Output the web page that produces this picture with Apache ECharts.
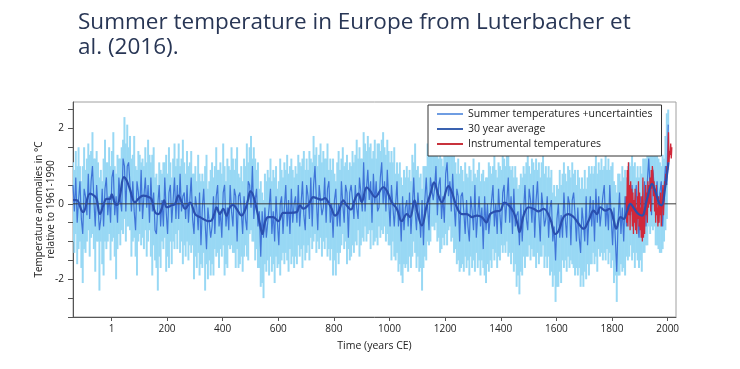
<!DOCTYPE html>
<html><head><meta charset="utf-8">
<script src="https://cdn.jsdelivr.net/npm/echarts@6/dist/echarts.min.js"></script>
<style>html,body{margin:0;padding:0;background:#fff}#c{width:740px;height:369px}</style>
</head><body><div id="c"></div>
<script>
const titleText = "Summer temperature in Europe from Luterbacher et\nal. (2016).";
const xName = "Time (years CE)";
const yName = "Temperature anomalies in °C\nrelative to 1961-1990";
const xMin = -138, xMax = 2030;
const yMin = -3, yMax = 2.7;
const xTickValues = [1,200,400,600,800,1000,1200,1400,1600,1800,2000];
const yTickValues = [-3,-2.5,-2,-1.5,-1,-0.5,0,0.5,1,1.5,2,2.5];
const yLabelValues = [-2,0,2];
const seriesNames = ["Summer temperatures +uncertainties","30 year average","Instrumental temperatures"];

// annual reconstruction sampled every 5 years starting -138
const annualStart = -138, annualStep = 5;
const annualVal = [
0.5,-0.2,0.7,-0.5,0.1,0.6,-0.4,-0.8,0.4,0.2,-0.3,0.8,-0.4,0.6,1.0,0.1,-0.6,0.5,-0.1,-0.7,
-0.4,0.4,-0.6,0.4,0.7,-0.3,0.2,-0.5,0.7,0.9,-0.3,0.2,-0.5,0.7,0.1,-0.2,1.2,1.0,-0.2,1.0,
1.1,0.5,-0.2,0.6,-0.2,-0.7,0.6,0.3,-0.2,0.9,-0.4,0.2,0.7,-0.1,0.5,-0.5,0.7,-0.2,0.3,-0.7,
-0.8,0.0,0.5,-0.6,0.1,-0.6,0.7,-0.2,-0.8,0.3,0.5,-0.5,0.1,0.7,-0.4,0.5,-0.4,0.8,-0.2,0.2,
0.3,-0.4,0.5,-0.5,0.1,0.7,-0.4,-0.8,0.2,-0.1,-0.7,0.3,-1.1,-0.1,0.4,-0.5,-1.2,-0.1,-0.5,-0.9,
-0.6,0.2,-0.8,0.2,0.5,-0.6,-0.2,-0.9,0.3,0.5,-0.6,-0.1,-0.7,0.5,-0.2,-0.6,0.4,0.2,-1.0,0.2,
0.3,-0.2,-0.8,0.2,-0.4,-0.7,0.6,0.5,-0.1,1.0,-0.4,0.1,0.4,-0.6,-0.2,-1.4,-0.2,-0.9,-0.1,-0.9,
-0.9,-0.1,0.4,-0.8,-0.2,-1.0,0.2,-0.5,-1.1,0.0,0.2,-0.8,-0.1,0.5,-0.6,0.1,-0.8,0.4,-0.5,0.0,
0.2,-0.5,0.5,-0.6,0.0,0.6,-0.3,-0.7,0.5,0.2,-0.4,0.7,-0.6,0.5,1.0,0.1,-0.7,0.5,0.1,-0.3,
-0.1,0.7,-0.5,0.4,0.6,-0.5,0.0,-0.9,0.1,0.4,-0.6,0.0,-0.6,0.6,0.0,-0.5,0.5,0.3,-0.9,0.3,
0.5,0.1,-0.4,0.5,-0.1,-0.4,0.7,0.3,-0.2,1.1,-0.2,0.4,0.9,0.1,0.6,-0.5,0.8,0.0,0.6,-0.2,
-0.1,0.7,1.1,0.0,0.6,-0.2,0.9,0.1,-0.6,0.5,0.5,-0.6,0.0,0.6,-0.6,0.0,-1.0,0.2,-0.7,-0.1,
0.1,-0.6,0.3,-0.8,-0.1,0.7,-0.2,-0.7,0.3,-0.2,-0.9,0.1,-1.1,0.1,0.7,-0.1,-0.7,0.7,0.4,0.1,
0.4,1.0,-0.3,0.5,0.7,-0.4,0.2,-0.5,0.8,1.1,0.2,0.6,-0.2,0.8,0.0,-0.6,0.4,0.2,-1.0,0.2,
0.3,-0.2,-0.8,0.1,-0.6,-1.0,0.2,-0.2,-0.7,0.5,-0.9,-0.3,0.2,-0.6,-0.1,-1.2,0.2,-0.7,0.0,-0.8,
-0.8,0.1,0.5,-0.6,0.0,-0.8,0.4,-0.3,-0.8,0.3,0.5,-0.5,0.1,0.7,-0.5,0.2,-0.8,0.4,-0.6,-0.3,
-0.2,-1.1,0.0,-1.0,-0.2,0.5,-0.4,-0.7,0.4,0.1,-0.5,0.5,-0.9,0.1,0.6,-0.3,-1.0,0.3,-0.1,-0.6,
-0.4,0.2,-0.9,-0.1,0.1,-1.0,-0.6,-1.5,-0.4,0.0,-0.9,-0.3,-0.9,0.3,-0.4,-0.9,0.2,0.0,-1.1,0.1,
0.3,-0.3,-1.0,-0.1,-0.9,-1.3,-0.1,-0.5,-1.0,0.2,-1.1,-0.4,0.2,-0.6,0.1,-1.0,0.4,-0.5,0.2,-0.6,
-0.6,0.2,0.5,-0.6,0.0,-0.7,0.5,-0.4,-1.1,-0.1,-0.1,-1.8,-0.4,0.3,-0.8,-0.1,-1.0,0.2,-0.6,0.0,
0.3,-0.3,0.5,-0.6,-0.1,0.5,-0.4,-0.9,0.2,-0.1,-0.6,0.6,-0.6,0.6,1.2,0.4,-0.3,0.9,0.4,-0.1,
0.6,-0.5,0.3,0.6,-0.6,0.4,1.0,0.5,2.1
];
const annualUp = [
1.1,0.9,1.4,1.0,1.5,1.0,0.6,1.0,1.5,0.9,1.2,1.6,1.3,1.4,1.9,1.2,1.2,1.4,1.1,0.7,
0.9,0.6,1.2,1.7,1.1,1.1,1.5,1.0,1.4,1.9,1.0,0.8,1.3,1.2,1.2,1.5,1.7,2.3,1.6,2.1,
1.5,1.8,1.2,1.3,1.8,1.0,0.9,1.4,1.3,1.1,1.2,1.0,1.5,1.1,1.7,1.3,1.1,1.3,1.5,0.7,
0.8,0.5,1.1,0.9,0.8,1.1,1.1,1.3,0.8,1.5,1.1,0.7,1.2,1.6,1.0,1.2,1.6,1.0,1.2,1.7,
1.1,0.8,1.4,1.0,1.1,1.4,0.8,0.8,1.0,0.6,1.3,0.8,0.6,0.8,0.6,1.0,1.3,0.4,0.6,0.9,
1.1,0.7,1.0,1.5,0.9,0.9,1.1,0.8,1.6,1.0,0.6,1.2,1.0,0.9,1.5,1.2,0.9,1.2,1.5,0.8,
0.7,1.0,0.6,1.2,1.0,1.6,1.1,1.5,1.8,1.2,1.5,1.2,0.9,1.1,0.4,0.6,0.3,0.1,0.8,0.6,
0.9,0.7,1.2,0.6,0.9,0.7,1.0,0.4,0.6,1.2,0.9,0.7,1.1,0.9,1.3,0.8,1.0,1.2,0.9,0.7,
1.0,0.8,1.3,1.1,1.0,1.2,1.4,0.9,1.2,0.9,1.4,1.2,1.1,1.8,1.3,1.5,1.0,1.3,1.6,1.1,
1.4,1.2,1.2,1.6,0.9,1.2,0.9,1.2,0.8,0.6,1.1,1.4,0.9,1.2,1.5,1.0,1.1,1.3,0.9,1.1,
1.0,1.4,1.1,1.3,1.7,1.2,1.5,1.2,1.2,1.9,1.6,1.4,1.8,1.5,1.6,1.2,1.4,1.7,1.2,1.6,
1.6,1.4,1.7,1.9,1.5,1.3,1.7,1.4,1.1,1.4,1.1,1.5,0.8,1.1,0.8,1.1,0.7,0.5,0.9,0.7,
1.0,0.7,0.9,0.6,1.3,1.1,1.6,0.9,1.0,0.7,0.8,0.4,1.0,1.0,1.0,1.6,1.5,1.3,1.8,1.7,
1.7,1.9,1.6,1.2,1.4,1.2,1.0,1.8,1.6,1.4,1.6,1.7,1.3,1.6,1.3,1.1,0.8,1.2,0.8,1.0,
0.9,0.6,1.1,0.8,0.7,1.0,0.9,0.6,1.2,0.8,0.7,0.9,1.1,0.6,0.8,0.9,0.6,0.7,0.7,1.1,
1.0,0.8,1.0,1.3,0.9,0.7,1.1,1.0,0.9,1.3,1.2,1.0,1.3,1.6,1.0,0.9,1.0,0.7,1.0,0.7,
0.4,0.5,0.8,0.7,1.0,0.8,1.1,1.4,1.0,0.8,1.2,1.1,0.9,1.2,0.9,1.1,0.7,1.1,1.4,0.8,
1.0,0.7,1.0,0.7,0.9,0.3,0.5,0.2,0.5,0.4,0.9,0.5,0.8,1.1,0.8,0.6,1.0,0.9,0.7,1.1,
0.8,0.9,0.5,0.9,0.7,0.4,0.7,0.4,0.9,0.4,0.7,1.0,0.8,1.0,0.8,1.0,1.3,0.8,1.1,0.9,
1.2,0.9,1.0,1.3,0.9,1.2,0.9,1.0,1.1,0.6,0.5,0.3,0.8,0.8,0.6,1.0,0.7,0.9,0.7,1.0,
1.1,1.0,1.3,1.0,1.1,0.7,1.0,0.7,1.0,0.8,1.2,1.2,1.2,1.6,1.5,1.7,1.9,1.5,1.7,1.4,
1.3,1.2,1.1,1.0,1.3,1.2,1.8,2.4,2.5
];
const annualLo = [
-1.0,-1.3,-0.8,-1.6,-1.2,-1.0,-1.7,-2.1,-1.2,-1.3,-1.0,-0.7,-1.4,-0.9,-0.8,-1.2,-1.8,-1.0,-1.0,-2.3,
-1.0,-1.6,-1.9,-1.0,-1.2,-1.0,-0.8,-1.5,-1.0,-0.9,-1.4,-2.0,-1.2,-0.8,-1.1,-0.7,-0.8,-0.4,-1.0,-0.6,
-0.6,-0.7,-1.4,-1.0,-0.9,-1.4,-1.9,-1.0,-0.8,-1.1,-0.9,-1.2,-0.7,-1.4,-1.0,-0.7,-1.4,-1.9,-1.1,-1.5,
-1.7,-2.3,-1.4,-1.7,-1.0,-1.2,-0.9,-1.8,-1.4,-1.7,-1.0,-1.6,-1.0,-1.2,-0.8,-1.2,-0.7,-1.3,-1.0,-1.6,
-1.1,-1.4,-1.0,-1.5,-1.1,-1.3,-1.1,-2.0,-1.4,-1.7,-1.3,-1.9,-1.6,-1.7,-1.3,-2.3,-1.6,-2.0,-1.5,-1.9,
-1.6,-1.9,-1.2,-1.4,-1.3,-1.7,-1.2,-1.4,-1.1,-1.9,-1.6,-1.7,-1.1,-1.2,-1.1,-1.3,-1.3,-1.7,-1.2,-1.7,
-1.6,-1.4,-1.8,-1.4,-1.1,-1.4,-1.5,-0.8,-0.7,-1.0,-1.0,-1.5,-1.2,-1.7,-1.7,-2.2,-2.1,-2.5,-1.6,-1.8,
-1.5,-1.9,-1.4,-1.8,-1.6,-2.1,-1.4,-1.7,-1.6,-1.9,-1.5,-1.3,-1.6,-1.3,-1.5,-1.8,-1.2,-1.6,-1.4,-1.7,
-1.4,-1.6,-1.1,-1.4,-1.2,-1.7,-1.1,-1.5,-1.3,-1.1,-1.5,-0.9,-1.2,-1.0,-0.8,-1.3,-1.0,-1.2,-0.9,-1.4,
-1.0,-1.2,-0.9,-1.4,-1.2,-1.5,-1.2,-1.9,-1.5,-1.9,-1.3,-1.6,-1.3,-1.1,-0.8,-1.2,-1.0,-1.6,-1.2,-1.5,
-1.4,-1.1,-1.3,-1.0,-1.1,-0.7,-1.4,-1.1,-0.9,-1.0,-0.6,-1.0,-0.8,-0.7,-1.2,-0.7,-1.1,-1.0,-0.9,-1.1,
-0.6,-0.9,-0.7,-0.8,-0.6,-1.0,-0.8,-1.1,-1.1,-1.5,-1.0,-1.4,-1.5,-1.3,-1.8,-1.6,-1.9,-2.1,-1.6,-1.7,
-1.6,-1.8,-1.4,-1.7,-1.4,-1.0,-1.3,-1.7,-1.4,-1.8,-1.7,-2.3,-1.7,-1.4,-1.5,-1.0,-1.1,-1.0,-0.6,-0.6,
-0.7,-0.5,-1.0,-0.9,-1.3,-1.2,-0.9,-1.1,-0.8,-1.1,-0.7,-0.6,-1.0,-0.9,-1.3,-1.2,-1.6,-1.5,-1.8,-1.7,
-1.6,-1.8,-1.4,-1.7,-1.5,-1.9,-1.4,-1.7,-1.5,-1.8,-1.3,-1.7,-1.5,-1.9,-1.5,-1.7,-1.9,-2.1,-1.6,-1.8,
-1.5,-1.7,-1.2,-1.5,-1.3,-1.7,-1.4,-1.5,-1.1,-1.3,-1.1,-1.3,-1.0,-1.4,-1.3,-1.6,-1.3,-1.8,-1.6,-2.2,
-1.9,-2.4,-1.8,-1.9,-1.4,-1.7,-1.4,-1.4,-1.1,-1.5,-1.2,-1.4,-1.4,-1.7,-1.3,-1.6,-1.4,-1.4,-1.1,-1.7,
-1.4,-1.7,-1.4,-1.9,-1.8,-2.2,-1.9,-2.6,-2.2,-2.2,-1.8,-2.1,-1.5,-1.7,-1.5,-1.8,-1.4,-1.7,-1.5,-1.6,
-1.7,-1.9,-1.7,-1.9,-1.7,-2.2,-1.9,-2.2,-1.8,-2.0,-1.6,-1.9,-1.6,-1.6,-1.3,-1.6,-1.4,-1.8,-1.2,-1.4,
-1.3,-1.5,-1.3,-1.5,-1.2,-1.6,-1.3,-1.7,-1.5,-2.1,-1.9,-2.6,-1.9,-1.9,-1.6,-1.8,-1.7,-1.9,-1.4,-1.5,
-1.4,-1.1,-1.5,-1.3,-1.7,-1.3,-1.5,-1.7,-1.5,-1.8,-1.3,-1.3,-1.1,-1.1,-0.6,-0.8,-0.6,-0.7,-0.6,-1.1,
-1.1,-1.2,-1.3,-1.3,-1.2,-1.0,-0.7,-0.4,0.9
];

// 30 year average
const trendYears = [-138,-125,-107,-101,-77,-59,-53,-41,-29,-17,-5,1,13,21,31,45,55,66,85,97,114,132,144,157,169,181,190,199,217,229,241,253,265,283,301,318,330,348,360,372,378,390,402,414,426,438,450,468,480,492,500,510,522,534,543,552,564,582,600,618,642,666,678,690,708,726,738,756,768,780,792,804,816,834,846,861,876,888,900,918,930,948,978,990,1008,1026,1044,1062,1074,1090,1100,1116,1134,1149,1160,1176,1188,1212,1224,1242,1260,1278,1296,1314,1332,1348,1362,1380,1398,1413,1428,1446,1460,1467,1482,1500,1518,1536,1554,1578,1596,1608,1626,1644,1662,1680,1698,1716,1734,1746,1758,1776,1791,1806,1815,1830,1842,1854,1866,1880,1895,1908,1926,1944,1958,1970,1978,1992,2003];
const trendVals = [0.1,0.1,-0.18,-0.22,0.27,0.2,0.13,-0.27,-0.04,0.13,0.13,0.25,0.0,-0.03,0.22,0.71,0.62,0.4,0.04,0.13,0.22,0.19,0.13,-0.22,-0.27,-0.13,0.09,-0.09,-0.04,0.0,0.22,0.04,-0.13,0.03,-0.27,-0.35,-0.4,-0.46,-0.44,-0.22,-0.09,-0.27,-0.13,-0.31,-0.09,-0.03,-0.13,-0.31,-0.18,0.13,0.33,0.22,-0.13,-0.53,-0.8,-0.49,-0.35,-0.35,-0.46,-0.24,-0.24,-0.22,-0.04,-0.13,-0.03,0.18,0.15,0.11,0.15,0.04,-0.13,-0.31,-0.22,0.09,-0.04,-0.15,0.13,0.27,0.05,0.44,0.35,0.18,0.44,0.35,0.04,-0.13,-0.46,-0.27,-0.35,0.09,-0.22,-0.57,-0.04,0.31,0.57,0.22,0.04,0.47,0.31,-0.09,-0.27,-0.27,-0.35,-0.31,-0.35,-0.49,-0.27,-0.2,-0.18,0.03,-0.03,-0.22,-0.53,-0.75,-0.31,-0.09,-0.13,-0.2,-0.13,-0.4,-0.8,-0.71,-0.35,-0.27,-0.35,-0.53,-0.66,-0.44,-0.18,-0.27,-0.09,-0.18,-0.13,-0.44,-0.66,-0.35,-0.4,-0.2,0.0,-0.13,-0.27,-0.31,0.13,0.53,0.27,0.0,-0.04,0.49,1.1];

// instrumental, every 2 years from 1851
const instStart = 1851, instStep = 2;
const instVals = [
0.2,-0.5,0.9,-0.6,1.1,-0.3,0.5,-0.7,0.6,-0.2,
0.4,-0.6,0.3,-0.8,0.1,-0.5,0.4,-0.7,-0.1,-0.8,
0.2,-0.4,0.6,-0.6,0.3,-0.7,-0.1,-0.9,0.2,-1.0,
0.7,-0.9,-0.2,-0.8,0.1,0.5,-0.3,0.3,-0.5,0.6,
-0.1,0.5,0.0,0.7,-0.2,0.9,0.4,1.0,0.8,0.2,
0.6,-0.2,0.4,-0.5,0.5,-0.3,-0.1,-0.6,0.2,-0.5,
0.1,-0.3,0.3,-0.6,-0.2,0.2,0.5,-0.3,0.1,0.6,
0.4,0.8,0.5,1.0,0.8,1.2,1.9,1.1,1.4,1.3,
1.6,1.2,1.5
];

const bandData = annualVal.map((v,i)=>[annualStart+annualStep*i, annualLo[i], annualUp[i]]);
const annualData = annualVal.map((v,i)=>[annualStart+annualStep*i, v]);
const trendData = trendYears.map((y,i)=>[y, trendVals[i]]);
const instData = instVals.map((v,i)=>[instStart+instStep*i, v]);

const FONT = "Open Sans";
const chart = echarts.init(document.getElementById('c'), null, {renderer:'canvas'});
chart.setOption({
  backgroundColor:'#fff',
  animation:false,
  title:{text:titleText,left:78,top:10,padding:0,
    textStyle:{fontFamily:FONT,fontSize:22.5,fontWeight:'normal',color:'#283655',lineHeight:25}},
  legend:{
    orient:'vertical',left:428,top:105,
    data:seriesNames,
    icon:'rect',itemWidth:26,itemHeight:2,itemGap:3,
    padding:[3,9,6,9],
    borderColor:'#333',borderWidth:1,backgroundColor:'#fff',
    textStyle:{fontFamily:FONT,fontSize:10.5,color:'#222',lineHeight:12},
    selectedMode:false
  },
  grid:{left:73,right:64,top:102,bottom:52,show:true,borderColor:'#a0a0a0',borderWidth:1},
  xAxis:{type:'value',min:xMin,max:xMax,
    axisLine:{show:true,onZero:false,lineStyle:{color:'#555',width:1}},
    axisTick:{show:true,customValues:xTickValues,length:4,lineStyle:{color:'#555'}},
    axisLabel:{customValues:xTickValues,fontFamily:FONT,fontSize:10,color:'#222',margin:7,
      formatter:function(v){return String(v);}},
    splitLine:{show:false},
    name:xName,nameLocation:'middle',nameGap:24,nameMoveOverlap:false,
    nameTextStyle:{fontFamily:FONT,fontSize:10.5,color:'#222'}
  },
  yAxis:{type:'value',min:yMin,max:yMax,
    axisLine:{show:true,onZero:false,lineStyle:{color:'#555',width:1}},
    axisTick:{show:true,customValues:yTickValues,length:5,lineStyle:{color:'#555'}},
    axisLabel:{customValues:yLabelValues,fontFamily:FONT,fontSize:10,color:'#222',margin:9,
      formatter:function(v){return String(v);}},
    splitLine:{show:false},
    name:yName,nameLocation:'middle',nameGap:16,nameMoveOverlap:false,
    nameTextStyle:{fontFamily:FONT,fontSize:10,color:'#222',lineHeight:12}
  },
  series:[
    {type:'custom',name:'band',z:1,silent:true,
     data:bandData,
     renderItem:function(params,api){
       const x=api.value(0);
       const pl=api.coord([x,api.value(1)]);
       const pu=api.coord([x,api.value(2)]);
       const w=api.size([annualStep,0])[0]+0.6;
       return {type:'rect',shape:{x:pl[0]-w/2,y:pu[1],width:w,height:pl[1]-pu[1]},
         style:{fill:'#98d8f4'}};
     },
     clip:true},
    {type:'line',name:seriesNames[0],z:2,data:annualData,symbol:'none',
     lineStyle:{color:'#3f74d8',width:1.2},itemStyle:{color:'#6f9de2'},silent:true},
    {type:'line',name:'zero',z:3,data:[[xMin,0],[xMax,0]],symbol:'none',
     lineStyle:{color:'#3a3a3a',width:1},silent:true},
    {type:'line',name:seriesNames[2],z:4,data:instData,symbol:'none',
     lineStyle:{color:'#d0283a',width:1.3},itemStyle:{color:'#c8323c'},silent:true},
    {type:'line',name:seriesNames[1],z:5,data:trendData,symbol:'none',smooth:0.4,
     lineStyle:{color:'#2a4fae',width:2.2},itemStyle:{color:'#3a62b0'},silent:true}
  ]
});
</script>
</body></html>
